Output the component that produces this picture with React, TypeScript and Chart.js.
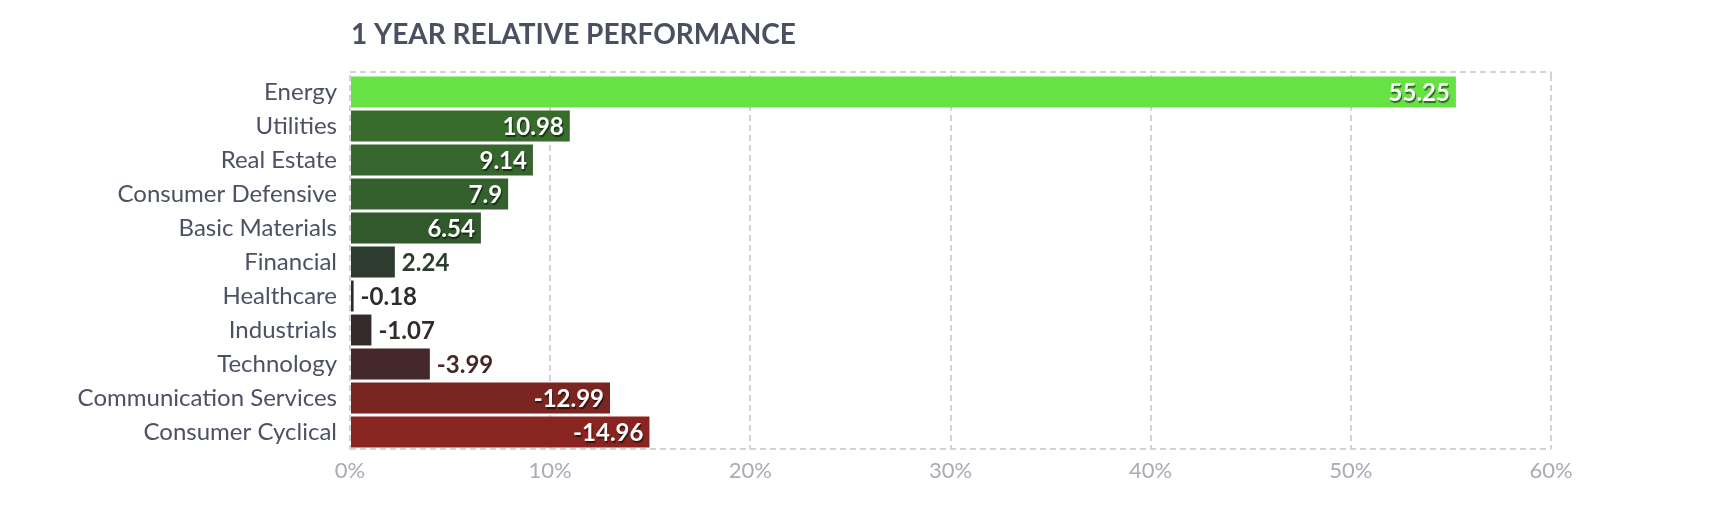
import React, { useEffect, useRef } from "react";
import { Chart, registerables } from "chart.js";

Chart.register(...registerables);

const TITLE = "1 YEAR RELATIVE PERFORMANCE";
const categories = [
  "Energy",
  "Utilities",
  "Real Estate",
  "Consumer Defensive",
  "Basic Materials",
  "Financial",
  "Healthcare",
  "Industrials",
  "Technology",
  "Communication Services",
  "Consumer Cyclical",
];
const values = [55.25, 10.98, 9.14, 7.9, 6.54, 2.24, -0.18, -1.07, -3.99, -12.99, -14.96];
const barColors = [
  "#67e245",
  "#386c2d",
  "#36662d",
  "#33602d",
  "#31592c",
  "#2e3b2f",
  "#2c2c2f",
  "#342a2b",
  "#45292a",
  "#7b2521",
  "#8a2420",
];
const xTickValues = [0, 10, 20, 30, 40, 50, 60];
const INSIDE_THRESHOLD = 5;

const GRID = "#d2d2d8";

const overlayPlugin = {
  id: "overlay",
  beforeDatasetsDraw(chart: any) {
    const { ctx, chartArea } = chart;
    ctx.save();
    ctx.strokeStyle = GRID;
    ctx.lineWidth = 2;
    ctx.setLineDash([6, 4]);
    const top = chartArea.top - 3;
    ctx.beginPath();
    ctx.moveTo(chartArea.left, top);
    ctx.lineTo(chartArea.right, top);
    ctx.moveTo(chartArea.right, top);
    ctx.lineTo(chartArea.right, chartArea.top);
    ctx.moveTo(chartArea.left, chartArea.bottom);
    ctx.lineTo(chartArea.right, chartArea.bottom);
    ctx.stroke();
    ctx.restore();
  },
  afterDatasetsDraw(chart: any) {
    const { ctx, chartArea } = chart;
    const meta = chart.getDatasetMeta(0);
    ctx.save();
    ctx.font = "bold 24px Lato";
    ctx.textBaseline = "middle";
    meta.data.forEach((bar: any, i: number) => {
      const v = values[i];
      const txt = String(v);
      if (Math.abs(v) >= INSIDE_THRESHOLD) {
        ctx.save();
        ctx.textAlign = "right";
        ctx.shadowColor = "rgba(0,0,0,0.55)";
        ctx.shadowOffsetX = 1;
        ctx.shadowOffsetY = 2;
        ctx.shadowBlur = 1;
        ctx.fillStyle = "#ffffff";
        ctx.fillText(txt, bar.x - 6, bar.y + 1);
        ctx.restore();
      } else {
        ctx.textAlign = "left";
        ctx.fillStyle = barColors[i];
        ctx.fillText(txt, bar.x + 7, bar.y + 1);
      }
    });
    // title
    ctx.font = "bold 28px Lato";
    ctx.textAlign = "left";
    ctx.textBaseline = "alphabetic";
    ctx.fillStyle = "#4b5060";
    ctx.fillText(TITLE, chartArea.left + 1, 44);
    ctx.restore();
  },
};

export default function App() {
  const ref = useRef<HTMLCanvasElement | null>(null);
  useEffect(() => {
    if (!ref.current) return;
    Chart.defaults.font.family = "Lato";
    const chart = new Chart(ref.current, {
      type: "bar",
      data: {
        labels: categories,
        datasets: [
          {
            data: values.map((v) => Math.abs(v)),
            backgroundColor: barColors,
            borderWidth: 0,
            barPercentage: 0.91,
            categoryPercentage: 1,
          },
        ],
      },
      options: {
        indexAxis: "y",
        animation: false,
        responsive: false,
        maintainAspectRatio: false,
        layout: { padding: { left: 0, right: 159, top: 75, bottom: 0 } },
        plugins: {
          legend: { display: false },
          title: { display: false },
          tooltip: { enabled: false },
        },
        scales: {
          x: {
            min: 0,
            max: 60,
            afterFit: (s: any) => {
              s.height = 73;
            },
            afterBuildTicks: (s: any) => {
              s.ticks = xTickValues.map((v) => ({ value: v }));
            },
            ticks: {
              callback: (v: any) => v + "%",
              color: "#a9abb5",
              font: { size: 22, family: "Lato" },
              padding: 9,
              maxRotation: 0,
            },
            grid: {
              color: GRID,
              lineWidth: 2,
              drawTicks: false,
            },
            border: { display: false, dash: [6, 4] },
          },
          y: {
            afterFit: (s: any) => {
              s.width = 350;
            },
            ticks: {
              color: "#4c5163",
              font: { size: 24, family: "Lato" },
              padding: 13,
            },
            grid: { display: false, drawTicks: false },
            border: { display: false },
          },
        },
      },
      plugins: [overlayPlugin],
    });
    return () => chart.destroy();
  }, []);
  return (
    <div style={{ position: "fixed", left: 0, top: 0, width: 1710, height: 522, background: "#fff" }}>
      <canvas ref={ref} width={1710} height={522} style={{ width: 1710, height: 522 }} />
    </div>
  );
}
